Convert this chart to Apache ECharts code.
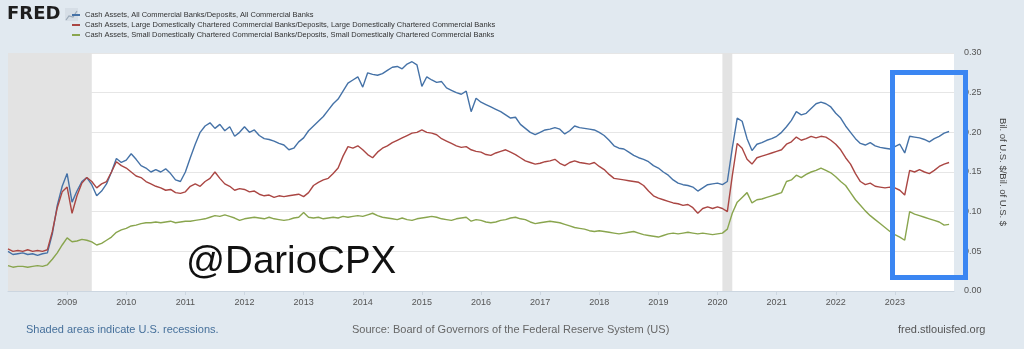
<!DOCTYPE html>
<html>
<head>
<meta charset="utf-8">
<script src="https://cdn.jsdelivr.net/npm/echarts@6/dist/echarts.min.js"></script>
<style>
  html, body { margin: 0; padding: 0; background: #e1e9f0; }
  #chart { width: 1024px; height: 349px; }
</style>
</head>
<body>
<div id="chart"></div>
<script>
// Monthly observations, Jan 2008 .. Dec 2023 (one row per year)
const startYear = 2008;
const endYear = 2024;

const seriesNames = [
  'Cash Assets, All Commercial Banks/Deposits, All Commercial Banks',
  'Cash Assets, Large Domestically Chartered Commercial Banks/Deposits, Large Domestically Chartered Commercial Banks',
  'Cash Assets, Small Domestically Chartered Commercial Banks/Deposits, Small Domestically Chartered Commercial Banks'
];

const allBanks = [
  0.050,0.046,0.047,0.048,0.046,0.047,0.045,0.047,0.048,0.072,0.108,0.132, // 2008
  0.148,0.112,0.126,0.138,0.143,0.134,0.120,0.126,0.135,0.150,0.167,0.162, // 2009
  0.165,0.173,0.166,0.158,0.155,0.150,0.153,0.150,0.154,0.148,0.140,0.138, // 2010
  0.150,0.168,0.185,0.200,0.208,0.212,0.205,0.210,0.202,0.207,0.195,0.200, // 2011
  0.207,0.200,0.203,0.196,0.192,0.191,0.189,0.186,0.184,0.178,0.180,0.188, // 2012
  0.193,0.202,0.208,0.214,0.220,0.228,0.236,0.242,0.252,0.262,0.266,0.270, // 2013
  0.257,0.275,0.273,0.272,0.274,0.278,0.282,0.283,0.280,0.286,0.289,0.285, // 2014
  0.258,0.270,0.266,0.263,0.264,0.256,0.253,0.250,0.248,0.252,0.226,0.243, // 2015
  0.238,0.235,0.232,0.229,0.226,0.222,0.218,0.219,0.210,0.205,0.200,0.197, // 2016
  0.200,0.203,0.204,0.206,0.204,0.198,0.202,0.208,0.206,0.205,0.204,0.203, // 2017
  0.200,0.196,0.190,0.183,0.180,0.179,0.175,0.171,0.168,0.166,0.163,0.158, // 2018
  0.155,0.150,0.146,0.140,0.136,0.134,0.133,0.131,0.126,0.130,0.134,0.135, // 2019
  0.136,0.134,0.138,0.180,0.218,0.214,0.192,0.177,0.185,0.187,0.190,0.192, // 2020
  0.195,0.200,0.207,0.215,0.226,0.222,0.224,0.230,0.236,0.238,0.236,0.232, // 2021
  0.224,0.218,0.208,0.200,0.192,0.186,0.184,0.187,0.183,0.181,0.180,0.179, // 2022
  0.182,0.185,0.174,0.195,0.194,0.193,0.191,0.188,0.192,0.195,0.199,0.201  // 2023
];

const largeBanks = [
  0.053,0.050,0.051,0.050,0.052,0.050,0.051,0.050,0.052,0.075,0.105,0.125, // 2008
  0.131,0.098,0.120,0.136,0.143,0.138,0.130,0.135,0.138,0.150,0.163,0.158, // 2009
  0.155,0.150,0.145,0.143,0.138,0.135,0.132,0.130,0.127,0.128,0.124,0.123, // 2010
  0.125,0.132,0.135,0.132,0.138,0.142,0.150,0.142,0.135,0.132,0.127,0.129, // 2011
  0.128,0.125,0.126,0.122,0.120,0.121,0.118,0.120,0.119,0.120,0.121,0.122, // 2012
  0.119,0.124,0.133,0.137,0.140,0.142,0.148,0.155,0.170,0.182,0.180,0.183, // 2013
  0.178,0.172,0.168,0.175,0.180,0.183,0.187,0.190,0.193,0.196,0.199,0.200, // 2014
  0.203,0.200,0.199,0.197,0.192,0.189,0.186,0.183,0.181,0.182,0.178,0.176, // 2015
  0.175,0.172,0.171,0.174,0.176,0.178,0.175,0.172,0.168,0.164,0.162,0.160, // 2016
  0.161,0.163,0.164,0.166,0.161,0.158,0.162,0.164,0.162,0.161,0.160,0.162, // 2017
  0.157,0.153,0.147,0.142,0.141,0.140,0.139,0.138,0.137,0.133,0.126,0.120, // 2018
  0.117,0.115,0.113,0.111,0.110,0.108,0.109,0.105,0.098,0.104,0.106,0.104, // 2019
  0.106,0.104,0.100,0.145,0.186,0.180,0.166,0.160,0.168,0.170,0.172,0.174, // 2020
  0.176,0.178,0.185,0.188,0.194,0.190,0.192,0.195,0.193,0.195,0.194,0.190, // 2021
  0.185,0.178,0.168,0.160,0.148,0.138,0.134,0.136,0.132,0.131,0.130,0.131, // 2022
  0.130,0.127,0.121,0.152,0.150,0.153,0.150,0.148,0.152,0.157,0.160,0.162  // 2023
];

const smallBanks = [
  0.032,0.030,0.031,0.031,0.030,0.031,0.032,0.031,0.033,0.040,0.048,0.058, // 2008
  0.067,0.062,0.063,0.065,0.064,0.062,0.058,0.060,0.064,0.068,0.074,0.077, // 2009
  0.079,0.082,0.083,0.085,0.086,0.086,0.087,0.086,0.087,0.088,0.086,0.087, // 2010
  0.088,0.088,0.089,0.090,0.091,0.093,0.095,0.094,0.096,0.094,0.092,0.089, // 2011
  0.091,0.092,0.093,0.092,0.091,0.093,0.091,0.090,0.089,0.090,0.092,0.093, // 2012
  0.099,0.093,0.092,0.093,0.091,0.092,0.093,0.092,0.094,0.093,0.094,0.095, // 2013
  0.094,0.096,0.098,0.095,0.093,0.092,0.091,0.090,0.092,0.090,0.089,0.091, // 2014
  0.092,0.093,0.094,0.093,0.091,0.090,0.089,0.091,0.092,0.093,0.088,0.090, // 2015
  0.089,0.087,0.086,0.087,0.089,0.090,0.092,0.093,0.091,0.090,0.087,0.085, // 2016
  0.086,0.087,0.088,0.087,0.086,0.084,0.082,0.080,0.079,0.078,0.076,0.075, // 2017
  0.076,0.075,0.074,0.073,0.072,0.073,0.074,0.075,0.073,0.071,0.070,0.069, // 2018
  0.068,0.070,0.072,0.073,0.072,0.073,0.074,0.073,0.072,0.073,0.072,0.071, // 2019
  0.072,0.073,0.078,0.098,0.112,0.118,0.124,0.111,0.115,0.116,0.118,0.120, // 2020
  0.122,0.124,0.138,0.140,0.146,0.143,0.147,0.150,0.152,0.155,0.152,0.149, // 2021
  0.144,0.138,0.133,0.124,0.115,0.108,0.101,0.095,0.090,0.085,0.080,0.075, // 2022
  0.071,0.068,0.064,0.100,0.097,0.095,0.093,0.091,0.089,0.087,0.083,0.084  // 2023
];

// NBER recession periods (decimal years)
const recessions = [[2008.0, 2009.417], [2020.083, 2020.25]];

const seriesColors = ['#4572a7', '#aa4643', '#89a54e'];
const yMin = 0, yMax = 0.30, yStep = 0.05;

const FONT = '"Liberation Sans", Arial, sans-serif';

// monthly index -> decimal year
function toPairs(values) {
  return values.map((v, i) => [startYear + i / 12, v]);
}

const chart = echarts.init(document.getElementById('chart'), null, { renderer: 'canvas' });

const lineSeries = [allBanks, largeBanks, smallBanks].map((vals, k) => ({
  name: seriesNames[k],
  type: 'line',
  data: toPairs(vals),
  showSymbol: false,
  symbol: 'none',
  lineStyle: { width: 1.4, color: seriesColors[k] },
  itemStyle: { color: seriesColors[k] },
  z: 3 + k
}));

lineSeries[0].markArea = {
  silent: true,
  itemStyle: { color: '#e3e3e3' },
  data: recessions.map(r => [{ xAxis: r[0] }, { xAxis: r[1] }])
};

chart.setOption({
  backgroundColor: '#e1e9f0',
  animation: false,
  textStyle: { fontFamily: FONT },
  grid: {
    left: 8, right: 70, top: 53, bottom: 58,
    show: true, backgroundColor: '#ffffff', borderWidth: 0
  },
  legend: {
    orient: 'vertical',
    left: 72, top: 10,
    padding: 0,
    itemWidth: 8, itemHeight: 2, itemGap: 0,
    icon: 'rect',
    textStyle: { fontSize: 7.5, lineHeight: 10, color: '#333', fontFamily: FONT },
    data: seriesNames
  },
  xAxis: {
    type: 'value',
    min: startYear, max: endYear, interval: 1,
    axisLine: { show: true, lineStyle: { color: '#ccd6e0', width: 1 } },
    axisTick: { show: true, length: 4, lineStyle: { color: '#ccd6e0' } },
    splitLine: { show: false },
    axisLabel: {
      color: '#555', fontSize: 9, margin: 7, fontFamily: FONT,
      showMinLabel: false, showMaxLabel: false,
      formatter: v => String(v)
    }
  },
  yAxis: {
    type: 'value',
    position: 'right',
    min: yMin, max: yMax, interval: yStep,
    axisLine: { show: false },
    axisTick: { show: false },
    splitLine: { lineStyle: { color: '#e6e6e6', width: 1 } },
    axisLabel: {
      color: '#555', fontSize: 9, margin: 10, fontFamily: FONT,
      formatter: v => v.toFixed(2)
    },
    name: 'Bil. of U.S. $/Bil. of U.S. $',
    nameLocation: 'middle',
    nameRotate: -90,
    nameGap: 44,
    nameTextStyle: { color: '#444', fontSize: 9.5, fontFamily: FONT }
  },
  series: lineSeries,
  graphic: [
    {
      type: 'text', x: 7, y: 5, z: 50,
      style: {
        text: 'FRED', fontSize: 18, fontWeight: 'bold',
        fontFamily: '"DejaVu Sans", sans-serif',
        fill: '#1e1e1e', verticalAlign: 'top'
      }
    },
    {
      type: 'group', x: 65, y: 8, z: 50,
      children: [
        { type: 'rect', shape: { x: 0, y: 0, width: 13, height: 13 }, style: { fill: '#d6dee6' } },
        { type: 'polyline', shape: { points: [[1, 12], [4, 8], [8, 9], [12, 3]] }, style: { stroke: '#9aa9b8', lineWidth: 1.2, fill: 'none' } }
      ]
    },
    {
      type: 'text', x: 186, y: 243, z: 60,
      style: { text: '@DarioCPX', fontSize: 38.5, fontFamily: FONT, fill: '#111', verticalAlign: 'top' }
    },
    {
      type: 'rect', z: 70,
      shape: { x: 892.5, y: 72.5, width: 73, height: 205 },
      style: { fill: 'none', stroke: '#3b86f2', lineWidth: 5 }
    },
    {
      type: 'text', x: 26, y: 324, z: 50,
      style: { text: 'Shaded areas indicate U.S. recessions.', fontSize: 11, fontFamily: FONT, fill: '#46709b', verticalAlign: 'top' }
    },
    {
      type: 'text', x: 352, y: 324, z: 50,
      style: { text: 'Source: Board of Governors of the Federal Reserve System (US)', fontSize: 11, fontFamily: FONT, fill: '#666', verticalAlign: 'top' }
    },
    {
      type: 'text', x: 898, y: 324, z: 50,
      style: { text: 'fred.stlouisfed.org', fontSize: 11, fontFamily: FONT, fill: '#555', verticalAlign: 'top' }
    }
  ]
});
</script>
</body>
</html>
